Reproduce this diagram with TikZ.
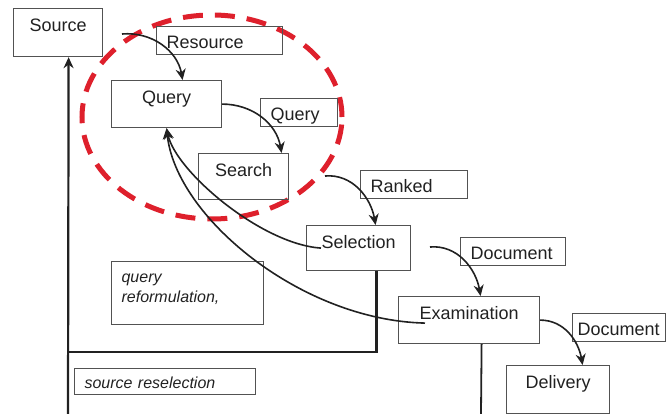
\documentclass[tikz,border=0pt]{standalone}
\usepackage{fontspec}
\setmainfont{Liberation Sans}
\usepackage{tikz}
\usetikzlibrary{arrows.meta,calc}
\definecolor{ink}{gray}{0.13}
\definecolor{rim}{gray}{0.32}
\definecolor{loopred}{RGB}{222,32,44}
\tikzset{
  stage/.style={draw=rim,line width=1.2pt,anchor=north west,inner ysep=10pt,
                text height=13pt,text depth=#1,text=ink,
                font=\fontsize{18}{21}\selectfont},
  stage/.default=14pt,
  tag/.style={draw=rim,line width=1.2pt,anchor=north west,inner xsep=10pt,
              inner ysep=6pt,text height=16pt,text depth=0pt,text width=#1,
              align=left,text=ink,font=\fontsize{18}{21}\selectfont},
  note/.style={draw=rim,line width=1.2pt,anchor=north west,inner xsep=10pt,
               text height=16pt,text width=#1,align=left,text=ink,
               font=\fontsize{16}{20}\selectfont\itshape},
  fl/.style={-{Stealth[length=11pt,width=10pt]},line width=1.6pt,draw=ink},
  back/.style={fl,line width=2.2pt},
}

\begin{document}
\begin{tikzpicture}[x=1pt, y=1pt]
  \useasboundingbox (0,0) rectangle (667,-414);
  % The loop that the search stages form.
  \draw[loopred, line width=5pt, dash pattern=on 20pt off 12pt]
       (212,-117) ellipse [x radius=130, y radius=102];
  % Stages, top left to bottom right.
  \node[stage=15pt, minimum width=89pt]  (src)  at (13,-8)   {Source};
  \node[stage, minimum width=110pt]      (q)    at (111,-80) {Query};
  \node[stage=13pt, minimum width=90pt]  (srch) at (198,-153) {Search};
  \node[stage=12pt, minimum width=104pt] (sel)  at (306,-225) {Selection};
  \node[stage, minimum width=141pt]      (exam) at (398,-296) {Examination};
  \node[stage=15pt, minimum width=103pt] (dlv)  at (506,-365) {Delivery};
  % What passes from one stage to the next.
  \node[tag=106pt] (tres) at (156,-26)  {Resource};
  \node[tag=57pt]  (tq)   at (260,-98)  {Query};
  \node[tag=87pt]  (trk)  at (360,-170) {Ranked};
  \node[tag=85pt]  (td1)  at (460,-237) {Document};
  \node[tag=83pt, inner xsep=5pt] (td2) at (572,-313) {Document};
  \node[note=132pt, inner ysep=5pt, text depth=37pt] (nref) at (111,-261)
       {query\\reformulation,};
  \node[note=161pt, inner ysep=4pt, text depth=2pt] (nsrc) at (74,-368)
       {source reselection};
  % Forward flow.
  \coordinate (s1) at (122,-34);
  \coordinate (s3) at (325,-176);
  \coordinate (s4) at (430,-247);
  \draw[fl] (s1) to[out=5, in=100] ([xshift=16pt]q.north);
  \draw[fl] (q.east) to[out=0, in=100] ([xshift=38pt]srch.north);
  \draw[fl] (s3) to[out=5, in=100] ([xshift=17pt]sel.north);
  \draw[fl] (s4) to[out=5, in=100] ([xshift=11.5pt]exam.north);
  \draw[fl] (exam.east) to[out=0, in=100] ([xshift=24.5pt]dlv.north);
  % Feedback to the query.
  \draw[fl] ([xshift=15pt]sel.west) .. controls +(-60,4) and +(9,-43)
       .. (q.south);
  \draw[fl] ([xshift=27pt,yshift=-3pt]exam.west) .. controls +(-125,3)
       and +(9,-88) .. (q.south);
  % Feedback to the source.
  \coordinate (foot) at (68,-414);
  \coordinate (turn) at (68,-352);
  \coordinate (exfoot) at (481,-414);
  \draw[back] (foot) -- ([xshift=10.5pt]src.south);
  \draw[draw=ink, line width=2.5pt] ([xshift=18pt]sel.south) |- (turn);
  \draw[draw=ink, line width=1.8pt] ([xshift=12.5pt]exam.south) -- (exfoot);
\end{tikzpicture}
\end{document}
